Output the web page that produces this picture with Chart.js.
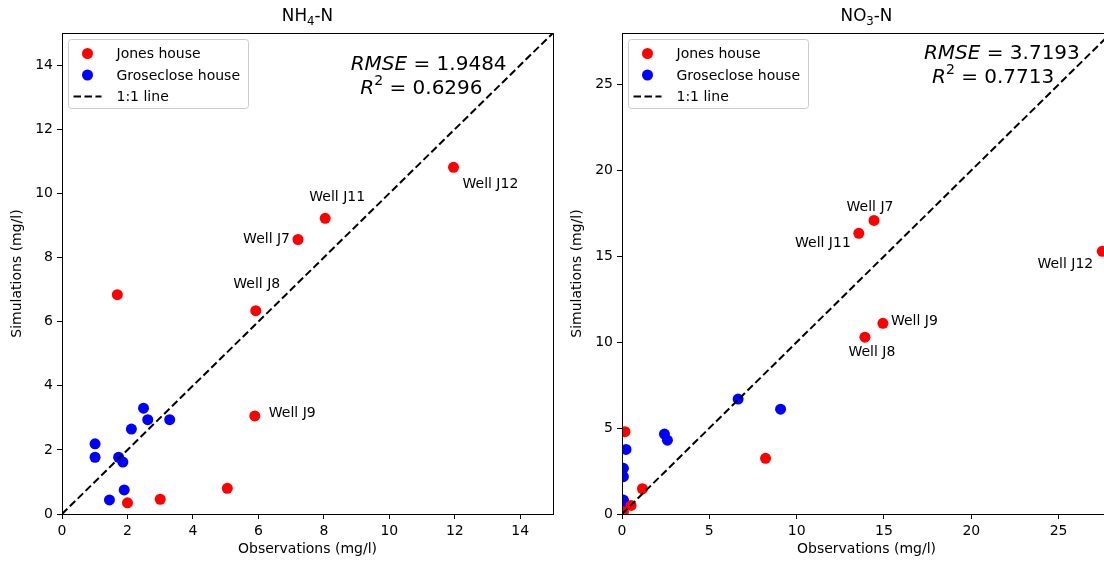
<!DOCTYPE html>
<html>
<head>
<meta charset="utf-8">
<script src="https://cdn.jsdelivr.net/npm/chart.js@4.4.1/dist/chart.umd.min.js"></script>
<style>
  html, body { margin: 0; padding: 0; background: #fff; overflow: hidden; }
  #wrap { position: relative; width: 1104px; height: 561px; overflow: hidden; }
  .panel { position: absolute; top: 0; height: 561px; }
  #left { left: 0; width: 560px; }
  #right { left: 560px; width: 558px; }
</style>
</head>
<body>
<div id="wrap">
  <div class="panel" id="left"><canvas id="nh4Chart" width="560" height="561"></canvas></div>
  <div class="panel" id="right"><canvas id="no3Chart" width="558" height="561"></canvas></div>
</div>
<script>
// ===============================
// DATA
// ===============================

// NH4-N panel
const nh4JonesObs = [1.69, 5.92, 7.21, 8.04, 11.96, 5.89, 2.00, 3.00, 5.05];
const nh4JonesSim = [6.84, 6.34, 8.56, 9.22, 10.81, 3.06, 0.35, 0.46, 0.80];
const nh4WellNames = ["", "Well J8", "Well J7", "Well J11", "Well J12", "Well J9", "", "", ""];
const nh4GroseObs = [2.49, 2.62, 3.29, 2.12, 1.01, 1.01, 1.73, 1.86, 1.90, 1.45];
const nh4GroseSim = [3.30, 2.94, 2.94, 2.65, 2.19, 1.77, 1.77, 1.62, 0.75, 0.44];
const nh4Ticks = [0, 2, 4, 6, 8, 10, 12, 14];
const nh4Max = 15;
const nh4Rmse = "1.9484";
const nh4R2 = "0.6296";

// NO3-N panel
const no3JonesObs = [14.43, 13.56, 27.5, 14.94, 13.91, 0.17, 8.22, 1.17, 0.52, 0.08];
const no3JonesSim = [17.09, 16.34, 15.29, 11.10, 10.29, 4.79, 3.24, 1.47, 0.50, 0.13];
const no3WellNames = ["Well J7", "Well J11", "Well J12", "Well J9", "Well J8", "", "", "", "", ""];
const no3GroseObs = [6.65, 9.08, 2.43, 2.60, 0.23, 0.08, 0.08, 0.08, 0.10];
const no3GroseSim = [6.69, 6.10, 4.65, 4.30, 3.76, 2.66, 2.17, 0.81, 0.70];
const no3Ticks = [0, 5, 10, 15, 20, 25];
const no3Max = 28;
const no3Rmse = "3.7193";
const no3R2 = "0.7713";

// ===============================
// STYLE / LAYOUT
// ===============================

const FONT = "DejaVu Sans";
const TXT = "#000000";

// label offsets (px) relative to the point: [dx, dy, align]
const nh4LabelPos = {
  "Well J8": [1, -26, "center"],
  "Well J7": [-8, 0, "right"],
  "Well J11": [12, -21, "center"],
  "Well J12": [9, 17, "left"],
  "Well J9": [14, -3, "left"]
};
const no3LabelPos = {
  "Well J7": [-4, -13, "center"],
  "Well J11": [-8, 10, "right"],
  "Well J12": [-9, 13, "right"],
  "Well J9": [8, -2, "left"],
  "Well J8": [7, 15, "center"]
};

function toPoints(xs, ys) {
  return xs.map((x, i) => ({ x: x, y: ys[i] }));
}

// draws a line made of parts: {t, italic, sub, sup}
function drawRich(ctx, parts, cx, cy, size) {
  const fontFor = p => {
    const s = (p.sub || p.sup) ? size * 0.7 : size;
    return (p.italic ? "italic " : "") + s + "px '" + FONT + "'";
  };
  let total = 0;
  parts.forEach(p => { ctx.font = fontFor(p); total += ctx.measureText(p.t).width; });
  let x = cx - total / 2;
  ctx.textAlign = "left";
  ctx.textBaseline = "middle";
  ctx.fillStyle = TXT;
  parts.forEach(p => {
    ctx.font = fontFor(p);
    let y = cy;
    if (p.sub) y += size * 0.28;
    if (p.sup) y -= size * 0.38;
    ctx.fillText(p.t, x, y);
    x += ctx.measureText(p.t).width;
  });
}

const extrasPlugin = {
  id: "extras",
  afterDraw(chart) {
    const o = chart.options.plugins.extras;
    const ctx = chart.ctx;
    const area = chart.chartArea;
    const xs = chart.scales.x;
    const ys = chart.scales.y;
    ctx.save();

    // axes frame (all four spines)
    ctx.strokeStyle = "#000";
    ctx.lineWidth = 1;
    ctx.setLineDash([]);
    ctx.strokeRect(Math.round(area.left) + 0.5, Math.round(area.top) + 0.5,
      Math.round(area.right - area.left), Math.round(area.bottom - area.top));

    // panel title
    drawRich(ctx, o.title, (area.left + area.right) / 2, 17, 16.8);

    // well labels
    ctx.font = "14px '" + FONT + "'";
    ctx.fillStyle = TXT;
    ctx.textBaseline = "middle";
    o.names.forEach((name, i) => {
      if (!name) return;
      const pos = o.labelPos[name];
      const px = xs.getPixelForValue(o.obs[i]);
      const py = ys.getPixelForValue(o.sim[i]);
      ctx.textAlign = pos[2];
      ctx.fillText(name, px + pos[0], py + pos[1]);
    });

    // statistics
    drawRich(ctx, [{ t: "RMSE", italic: true }, { t: " = " + o.rmse }],
      xs.getPixelForValue(o.statPos[0]), ys.getPixelForValue(o.statPos[1]), 20);
    drawRich(ctx, [{ t: "R", italic: true }, { t: "2", sup: true }, { t: " = " + o.r2 }],
      xs.getPixelForValue(o.statPos[2]), ys.getPixelForValue(o.statPos[3]), 20);

    // legend
    ctx.font = "14px '" + FONT + "'";
    const sets = chart.data.datasets;
    let maxW = 0;
    sets.forEach(d => { maxW = Math.max(maxW, ctx.measureText(d.label).width); });
    const fx = Math.round(area.left) + 6.5;
    const fy = Math.round(area.top) + 6.5;
    const fw = Math.round(48 + maxW + 9);
    const fh = 69;
    ctx.beginPath();
    ctx.roundRect(fx, fy, fw, fh, 3);
    ctx.fillStyle = "rgba(255,255,255,0.8)";
    ctx.fill();
    ctx.strokeStyle = "#cccccc";
    ctx.stroke();
    sets.forEach((d, i) => {
      const cy = fy + 14 + i * 21.5;
      if (d.showLine) {
        ctx.beginPath();
        ctx.strokeStyle = d.borderColor;
        ctx.lineWidth = d.borderWidth;
        ctx.setLineDash(d.borderDash);
        ctx.moveTo(fx + 5, cy);
        ctx.lineTo(fx + 33, cy);
        ctx.stroke();
        ctx.setLineDash([]);
      } else {
        ctx.beginPath();
        ctx.fillStyle = d.backgroundColor;
        ctx.arc(fx + 19, cy, d.pointRadius, 0, Math.PI * 2);
        ctx.fill();
      }
      ctx.fillStyle = TXT;
      ctx.textAlign = "left";
      ctx.textBaseline = "middle";
      ctx.fillText(d.label, fx + 48, cy + 1);
    });

    ctx.restore();
  }
};

function axisOptions(ticks, max, title, isX) {
  return {
    type: "linear",
    min: 0,
    max: max,
    afterBuildTicks: s => { s.ticks = ticks.map(v => ({ value: v })); },
    afterFit: s => { if (isX) s.height = 47; else s.width = 62; },
    grid: { drawOnChartArea: false, drawTicks: true, tickLength: 5, color: "#000", tickWidth: 1 },
    border: { color: "#000", width: 1 },
    ticks: { color: TXT, font: { family: FONT, size: 14 }, padding: 4, autoSkip: false, maxRotation: 0 },
    title: {
      display: true, text: title, color: TXT,
      font: { family: FONT, size: 14 },
      padding: isX ? { top: 0, bottom: 3 } : { top: 9, bottom: 0 }
    }
  };
}

function buildChart(id, cfg) {
  return new Chart(document.getElementById(id), {
    type: "scatter",
    data: {
      datasets: [
        {
          label: "Jones house",
          data: toPoints(cfg.jonesObs, cfg.jonesSim),
          backgroundColor: "#ff0000",
          borderWidth: 0,
          pointRadius: 5.5,
          pointHoverRadius: 5.5
        },
        {
          label: "Groseclose house",
          data: toPoints(cfg.groseObs, cfg.groseSim),
          backgroundColor: "#0000ff",
          borderWidth: 0,
          pointRadius: 5.5,
          pointHoverRadius: 5.5
        },
        {
          label: "1:1 line",
          data: [{ x: 0, y: 0 }, { x: cfg.max + 5, y: cfg.max + 5 }],
          showLine: true,
          borderColor: "#000000",
          backgroundColor: "#000000",
          borderWidth: 2,
          borderDash: [7.5, 3.5],
          pointRadius: 0,
          order: -1
        }
      ]
    },
    options: {
      responsive: false,
      animation: false,
      devicePixelRatio: 1,
      layout: { padding: { top: 33, right: cfg.padRight, left: 0, bottom: 0 } },
      plugins: {
        legend: { display: false },
        tooltip: { enabled: false },
        extras: {
          title: cfg.title,
          names: cfg.names,
          obs: cfg.jonesObs,
          sim: cfg.jonesSim,
          labelPos: cfg.labelPos,
          rmse: cfg.rmse,
          r2: cfg.r2,
          statPos: cfg.statPos
        }
      },
      scales: {
        x: axisOptions(cfg.ticks, cfg.max, "Observations (mg/l)", true),
        y: axisOptions(cfg.ticks, cfg.max, "Simulations (mg/l)", false)
      }
    },
    plugins: [extrasPlugin]
  });
}

buildChart("nh4Chart", {
  title: [{ t: "NH" }, { t: "4", sub: true }, { t: "-N" }],
  jonesObs: nh4JonesObs, jonesSim: nh4JonesSim, names: nh4WellNames,
  groseObs: nh4GroseObs, groseSim: nh4GroseSim,
  ticks: nh4Ticks, max: nh4Max, rmse: nh4Rmse, r2: nh4R2,
  labelPos: nh4LabelPos,
  statPos: [11.2, 14.0, 10.98, 13.25],
  padRight: 7
});

buildChart("no3Chart", {
  title: [{ t: "NO" }, { t: "3", sub: true }, { t: "-N" }],
  jonesObs: no3JonesObs, jonesSim: no3JonesSim, names: no3WellNames,
  groseObs: no3GroseObs, groseSim: no3GroseSim,
  ticks: no3Ticks, max: no3Max, rmse: no3Rmse, r2: no3R2,
  labelPos: no3LabelPos,
  statPos: [21.75, 26.8, 21.25, 25.4],
  padRight: 7
});
</script>
</body>
</html>
